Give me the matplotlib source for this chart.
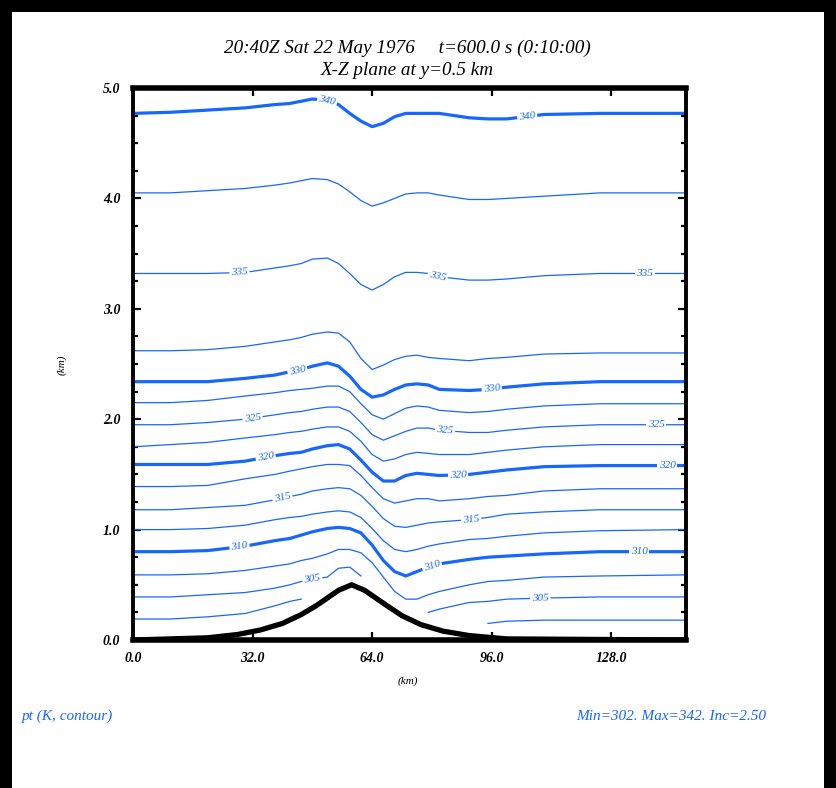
import numpy as np
import matplotlib
matplotlib.use('Agg')
from matplotlib import pyplot as plt
from matplotlib.patches import Rectangle

x_km = np.array([0, 10, 20, 30, 38, 42, 45, 48, 52, 55, 58, 61, 64, 67, 70, 73,
                 76, 79, 82, 90, 95, 100, 110, 125, 148])
nan = np.nan

# potential temperature contours (K): heights in km at x_km
pt_3025 = [0.19, 0.19, 0.21, 0.24, 0.31, 0.35, 0.37, nan, nan, nan, nan, nan, nan, nan, nan, nan,
           nan, nan, nan, nan, 0.15, 0.17, 0.18, 0.18, 0.18]
pt_3050 = [0.39, 0.39, 0.41, 0.43, 0.47, 0.50, 0.53, 0.55, 0.57, 0.65, 0.66, 0.58, nan, nan, nan, nan,
           nan, 0.25, 0.28, 0.34, 0.35, 0.37, 0.38, 0.39, 0.39]
pt_3075 = [0.59, 0.59, 0.60, 0.63, 0.67, 0.69, 0.72, 0.74, 0.78, 0.82, 0.82, 0.79, 0.70, 0.57, 0.44, 0.37,
           0.37, 0.41, 0.44, 0.50, 0.53, 0.54, 0.57, 0.58, 0.59]
pt_3100 = [0.80, 0.80, 0.81, 0.85, 0.90, 0.92, 0.95, 0.98, 1.01, 1.02, 1.01, 0.97, 0.86, 0.72, 0.62, 0.58,
           0.62, 0.66, 0.69, 0.73, 0.75, 0.76, 0.78, 0.80, 0.80]
pt_3125 = [1.00, 1.00, 1.01, 1.04, 1.09, 1.11, 1.12, 1.14, 1.16, 1.17, 1.16, 1.11, 1.01, 0.90, 0.82, 0.80,
           0.82, 0.85, 0.87, 0.91, 0.92, 0.94, 0.97, 0.99, 1.00]
pt_3150 = [1.18, 1.18, 1.20, 1.22, 1.27, 1.30, 1.32, 1.35, 1.37, 1.38, 1.37, 1.31, 1.21, 1.10, 1.03, 1.02,
           1.04, 1.06, 1.07, 1.09, 1.11, 1.14, 1.16, 1.18, 1.18]
pt_3175 = [1.39, 1.39, 1.40, 1.46, 1.50, 1.53, 1.55, 1.57, 1.59, 1.59, 1.58, 1.49, 1.38, 1.28, 1.24, 1.26,
           1.28, 1.28, 1.26, 1.28, 1.30, 1.31, 1.35, 1.37, 1.37]
pt_3200 = [1.59, 1.59, 1.59, 1.62, 1.67, 1.69, 1.70, 1.73, 1.76, 1.77, 1.73, 1.63, 1.52, 1.44, 1.44, 1.49,
           1.51, 1.50, 1.49, 1.50, 1.52, 1.54, 1.57, 1.58, 1.58]
pt_3225 = [1.75, 1.77, 1.79, 1.83, 1.86, 1.88, 1.89, 1.91, 1.93, 1.93, 1.89, 1.80, 1.68, 1.62, 1.64, 1.68,
           1.70, 1.69, 1.68, 1.68, 1.70, 1.72, 1.75, 1.77, 1.77]
pt_3250 = [1.95, 1.95, 1.97, 2.00, 2.04, 2.06, 2.07, 2.09, 2.11, 2.11, 2.07, 1.97, 1.86, 1.81, 1.85, 1.89,
           1.92, 1.92, 1.90, 1.88, 1.88, 1.90, 1.93, 1.95, 1.95]
pt_3275 = [2.15, 2.15, 2.17, 2.21, 2.24, 2.26, 2.27, 2.28, 2.30, 2.30, 2.25, 2.14, 2.04, 2.00, 2.05, 2.10,
           2.12, 2.11, 2.08, 2.06, 2.07, 2.09, 2.12, 2.14, 2.14]
pt_3300 = [2.34, 2.34, 2.34, 2.37, 2.40, 2.43, 2.45, 2.48, 2.51, 2.48, 2.39, 2.27, 2.20, 2.22, 2.27, 2.31,
           2.32, 2.31, 2.27, 2.26, 2.27, 2.29, 2.32, 2.34, 2.34]
pt_3325 = [2.62, 2.62, 2.63, 2.66, 2.70, 2.72, 2.74, 2.77, 2.79, 2.78, 2.70, 2.55, 2.45, 2.49, 2.54, 2.57,
           2.58, 2.56, 2.55, 2.53, 2.55, 2.56, 2.59, 2.60, 2.60]
pt_3350 = [3.32, 3.32, 3.32, 3.33, 3.37, 3.39, 3.41, 3.45, 3.46, 3.41, 3.32, 3.22, 3.17, 3.22, 3.29, 3.33,
           3.33, 3.32, 3.29, 3.26, 3.26, 3.27, 3.30, 3.32, 3.32]
pt_3375 = [4.05, 4.05, 4.07, 4.09, 4.12, 4.14, 4.16, 4.18, 4.17, 4.13, 4.06, 3.98, 3.93, 3.96, 4.00, 4.04,
           4.05, 4.05, 4.03, 3.99, 3.99, 4.00, 4.02, 4.05, 4.05]
pt_3400 = [4.77, 4.78, 4.80, 4.82, 4.85, 4.86, 4.88, 4.90, 4.89, 4.85, 4.77, 4.70, 4.65, 4.68, 4.74, 4.77,
           4.77, 4.77, 4.77, 4.73, 4.72, 4.72, 4.76, 4.77, 4.77]

levels = [302.5, 305, 307.5, 310, 312.5, 315, 317.5, 320, 322.5, 325, 327.5, 330, 332.5, 335, 337.5, 340]
contours = [pt_3025, pt_3050, pt_3075, pt_3100, pt_3125, pt_3150, pt_3175, pt_3200, pt_3225,
            pt_3250, pt_3275, pt_3300, pt_3325, pt_3350, pt_3375, pt_3400]

# label x positions (km) per labelled level
label_x = {305: [48, 109], 310: [28.5, 80, 135.5], 315: [40, 90.5], 320: [35.5, 87, 143],
           325: [32, 83.5, 140], 330: [44, 96], 335: [28.5, 81.5, 137], 340: [52, 105.5]}

# terrain
terrain_x = [0, 20, 28, 34, 40, 45, 49, 52, 55, 58.5, 62, 65, 68, 72, 77, 83, 90, 100, 148]
terrain_z = [0.0, 0.02, 0.05, 0.09, 0.15, 0.23, 0.31, 0.38, 0.45, 0.50, 0.45, 0.38, 0.31, 0.22,
             0.14, 0.08, 0.04, 0.01, 0.0]

blue = '#1767ff'
font = 'Liberation Serif'

fig = plt.figure(figsize=(8.36, 7.88), dpi=100)
fig.patch.set_facecolor('black')
fig.patches.append(Rectangle((12 / 836, 0), 812 / 836, 776 / 788, transform=fig.transFigure,
                             facecolor='white', edgecolor='none', zorder=-10))

ax = fig.add_axes([133 / 836, 148 / 788, 553 / 836, 552 / 788])
ax.set_xlim(0, 148)
ax.set_ylim(0, 5)

for lev, z in zip(levels, contours):
    lw = 2.3 if lev % 10 == 0 else 0.9
    ax.plot(x_km, z, color=blue, lw=lw, solid_joinstyle='round', zorder=2)

ax.plot(terrain_x, terrain_z, color='black', lw=3.8, solid_joinstyle='round', zorder=4)

for lev, xs in label_x.items():
    z = np.array(contours[levels.index(lev)], dtype=float)
    for xl in xs:
        zl = np.interp(xl, x_km, z)
        p1 = ax.transData.transform((xl - 2, np.interp(xl - 2, x_km, z)))
        p2 = ax.transData.transform((xl + 2, np.interp(xl + 2, x_km, z)))
        ang = np.degrees(np.arctan2(p2[1] - p1[1], p2[0] - p1[0]))
        ax.text(xl, zl, '%d' % lev, color=blue, fontsize=8, family=font, style='italic',
                rotation=ang, rotation_mode='anchor', ha='center', va='center', zorder=3,
                bbox=dict(boxstyle='square,pad=0.15', fc='white', ec='none'))

ax.set_xticks([0, 32, 64, 96, 128])
ax.set_xticklabels(['%.1f' % v for v in [0, 32, 64, 96, 128]])
ax.set_yticks([0, 1, 2, 3, 4, 5])
ax.set_yticklabels(['%.1f' % v for v in [0, 1, 2, 3, 4, 5]])
ax.set_yticks(np.arange(0, 5.01, 0.25), minor=True)
ax.tick_params(which='both', direction='in', top=True, right=True, width=1.6, color='black')
ax.tick_params(which='major', length=6)
ax.tick_params(axis='x', which='major', pad=9)
ax.tick_params(axis='y', which='major', pad=9)
ax.tick_params(which='minor', length=3.5)
for lab in ax.get_xticklabels() + ax.get_yticklabels():
    lab.set_family(font)
    lab.set_style('italic')
    lab.set_fontweight('bold')
    lab.set_fontsize(10)

for side in ['top', 'bottom']:
    ax.spines[side].set_linewidth(4)
for side in ['left', 'right']:
    ax.spines[side].set_linewidth(2.8)

fig.text(0.487, 0.939, '20:40Z Sat 22 May 1976     t=600.0 s (0:10:00)', ha='center', va='center',
         fontsize=13.8, family=font, style='italic')
fig.text(0.487, 0.910, 'X-Z plane at y=0.5 km', ha='center', va='center',
         fontsize=13.8, family=font, style='italic')
fig.text(0.074, 0.537, '(km)', rotation=90, ha='center', va='center', fontsize=8,
         family=font, style='italic')
fig.text(0.488, 0.136, '(km)', ha='center', va='center', fontsize=8, family=font, style='italic')
fig.text(0.026, 0.091, 'pt (K, contour)', ha='left', va='center', fontsize=11, family=font,
         style='italic', color=blue)
fig.text(0.916, 0.091, 'Min=302. Max=342. Inc=2.50', ha='right', va='center', fontsize=11,
         family=font, style='italic', color=blue)

fig.savefig('out.png', dpi=100, facecolor=fig.get_facecolor())
